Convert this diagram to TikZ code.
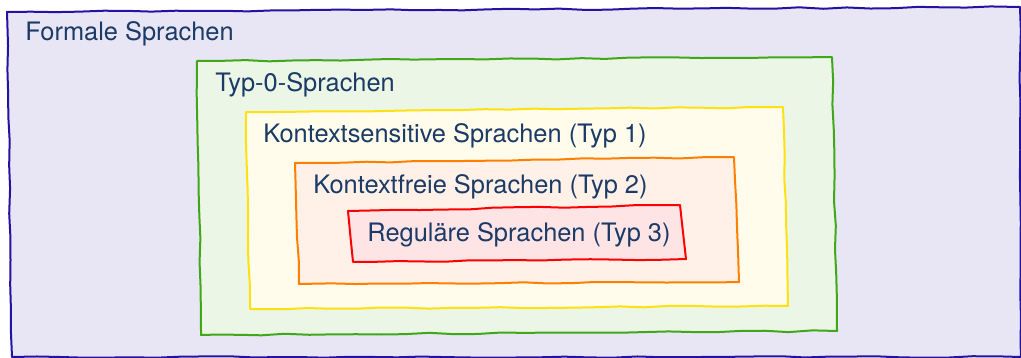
\documentclass[tikz,border=0pt]{standalone}
\usepackage{fontspec}
\setmainfont{TeX Gyre Heros}
\usetikzlibrary{decorations.pathmorphing}
\definecolor{txt}{HTML}{1B3A66}
\definecolor{bline}{HTML}{2412A0}
\definecolor{bfill}{HTML}{E8E6F5}
\definecolor{gline}{HTML}{40A818}
\definecolor{gfill}{HTML}{EBF6E6}
\definecolor{yline}{HTML}{FFE010}
\definecolor{yfill}{HTML}{FFFCEB}
\definecolor{oline}{HTML}{FF8000}
\definecolor{ofill}{HTML}{FFF1E8}
\definecolor{rline}{HTML}{FF0000}
\definecolor{rfill}{HTML}{FFE4E6}
\tikzset{
  sketch/.style={line width=1pt, line join=round, decorate,
    decoration={random steps, segment length=12pt, amplitude=0.4pt}},
  lbl/.style={anchor=base west, inner sep=0pt, text=txt,
    font=\fontsize{12.7}{15}\selectfont}
}
\begin{document}
\pgfmathsetseed{7}
\begin{tikzpicture}[x=0.5pt,y=-0.5pt]
\useasboundingbox (0,0) rectangle (1021,358);
% outer
\draw[sketch, draw=bline, fill=bfill] (7,12) -- (1020,7) -- (1021,357) -- (12,357) -- cycle;
% green
\draw[sketch, draw=gline, fill=gfill] (197,61) -- (832,57) -- (837,331) -- (201,335) -- cycle;
% yellow
\draw[sketch, draw=yline, fill=yfill] (246,112) -- (783,107) -- (788,306) -- (250,309) -- cycle;
% orange
\draw[sketch, draw=oline, fill=ofill] (295,163) -- (734,157) -- (739,282) -- (299,284) -- cycle;
% red
\draw[sketch, draw=rline, fill=rfill] (348,211) -- (680,205) -- (686,259) -- (353,262) -- cycle;
\node[lbl] (formal) at (25,41) {Formale Sprachen};
\node[lbl] (typ0) at (215,91) {Typ-0-Sprachen};
\node[lbl] (typ1) at (263,142) {Kontextsensitive Sprachen (Typ 1)};
\node[lbl] (typ2) at (313,193) {Kontextfreie Sprachen (Typ 2)};
\node[lbl] (typ3) at (367,241) {Reguläre Sprachen (Typ 3)};
\end{tikzpicture}
\end{document}
